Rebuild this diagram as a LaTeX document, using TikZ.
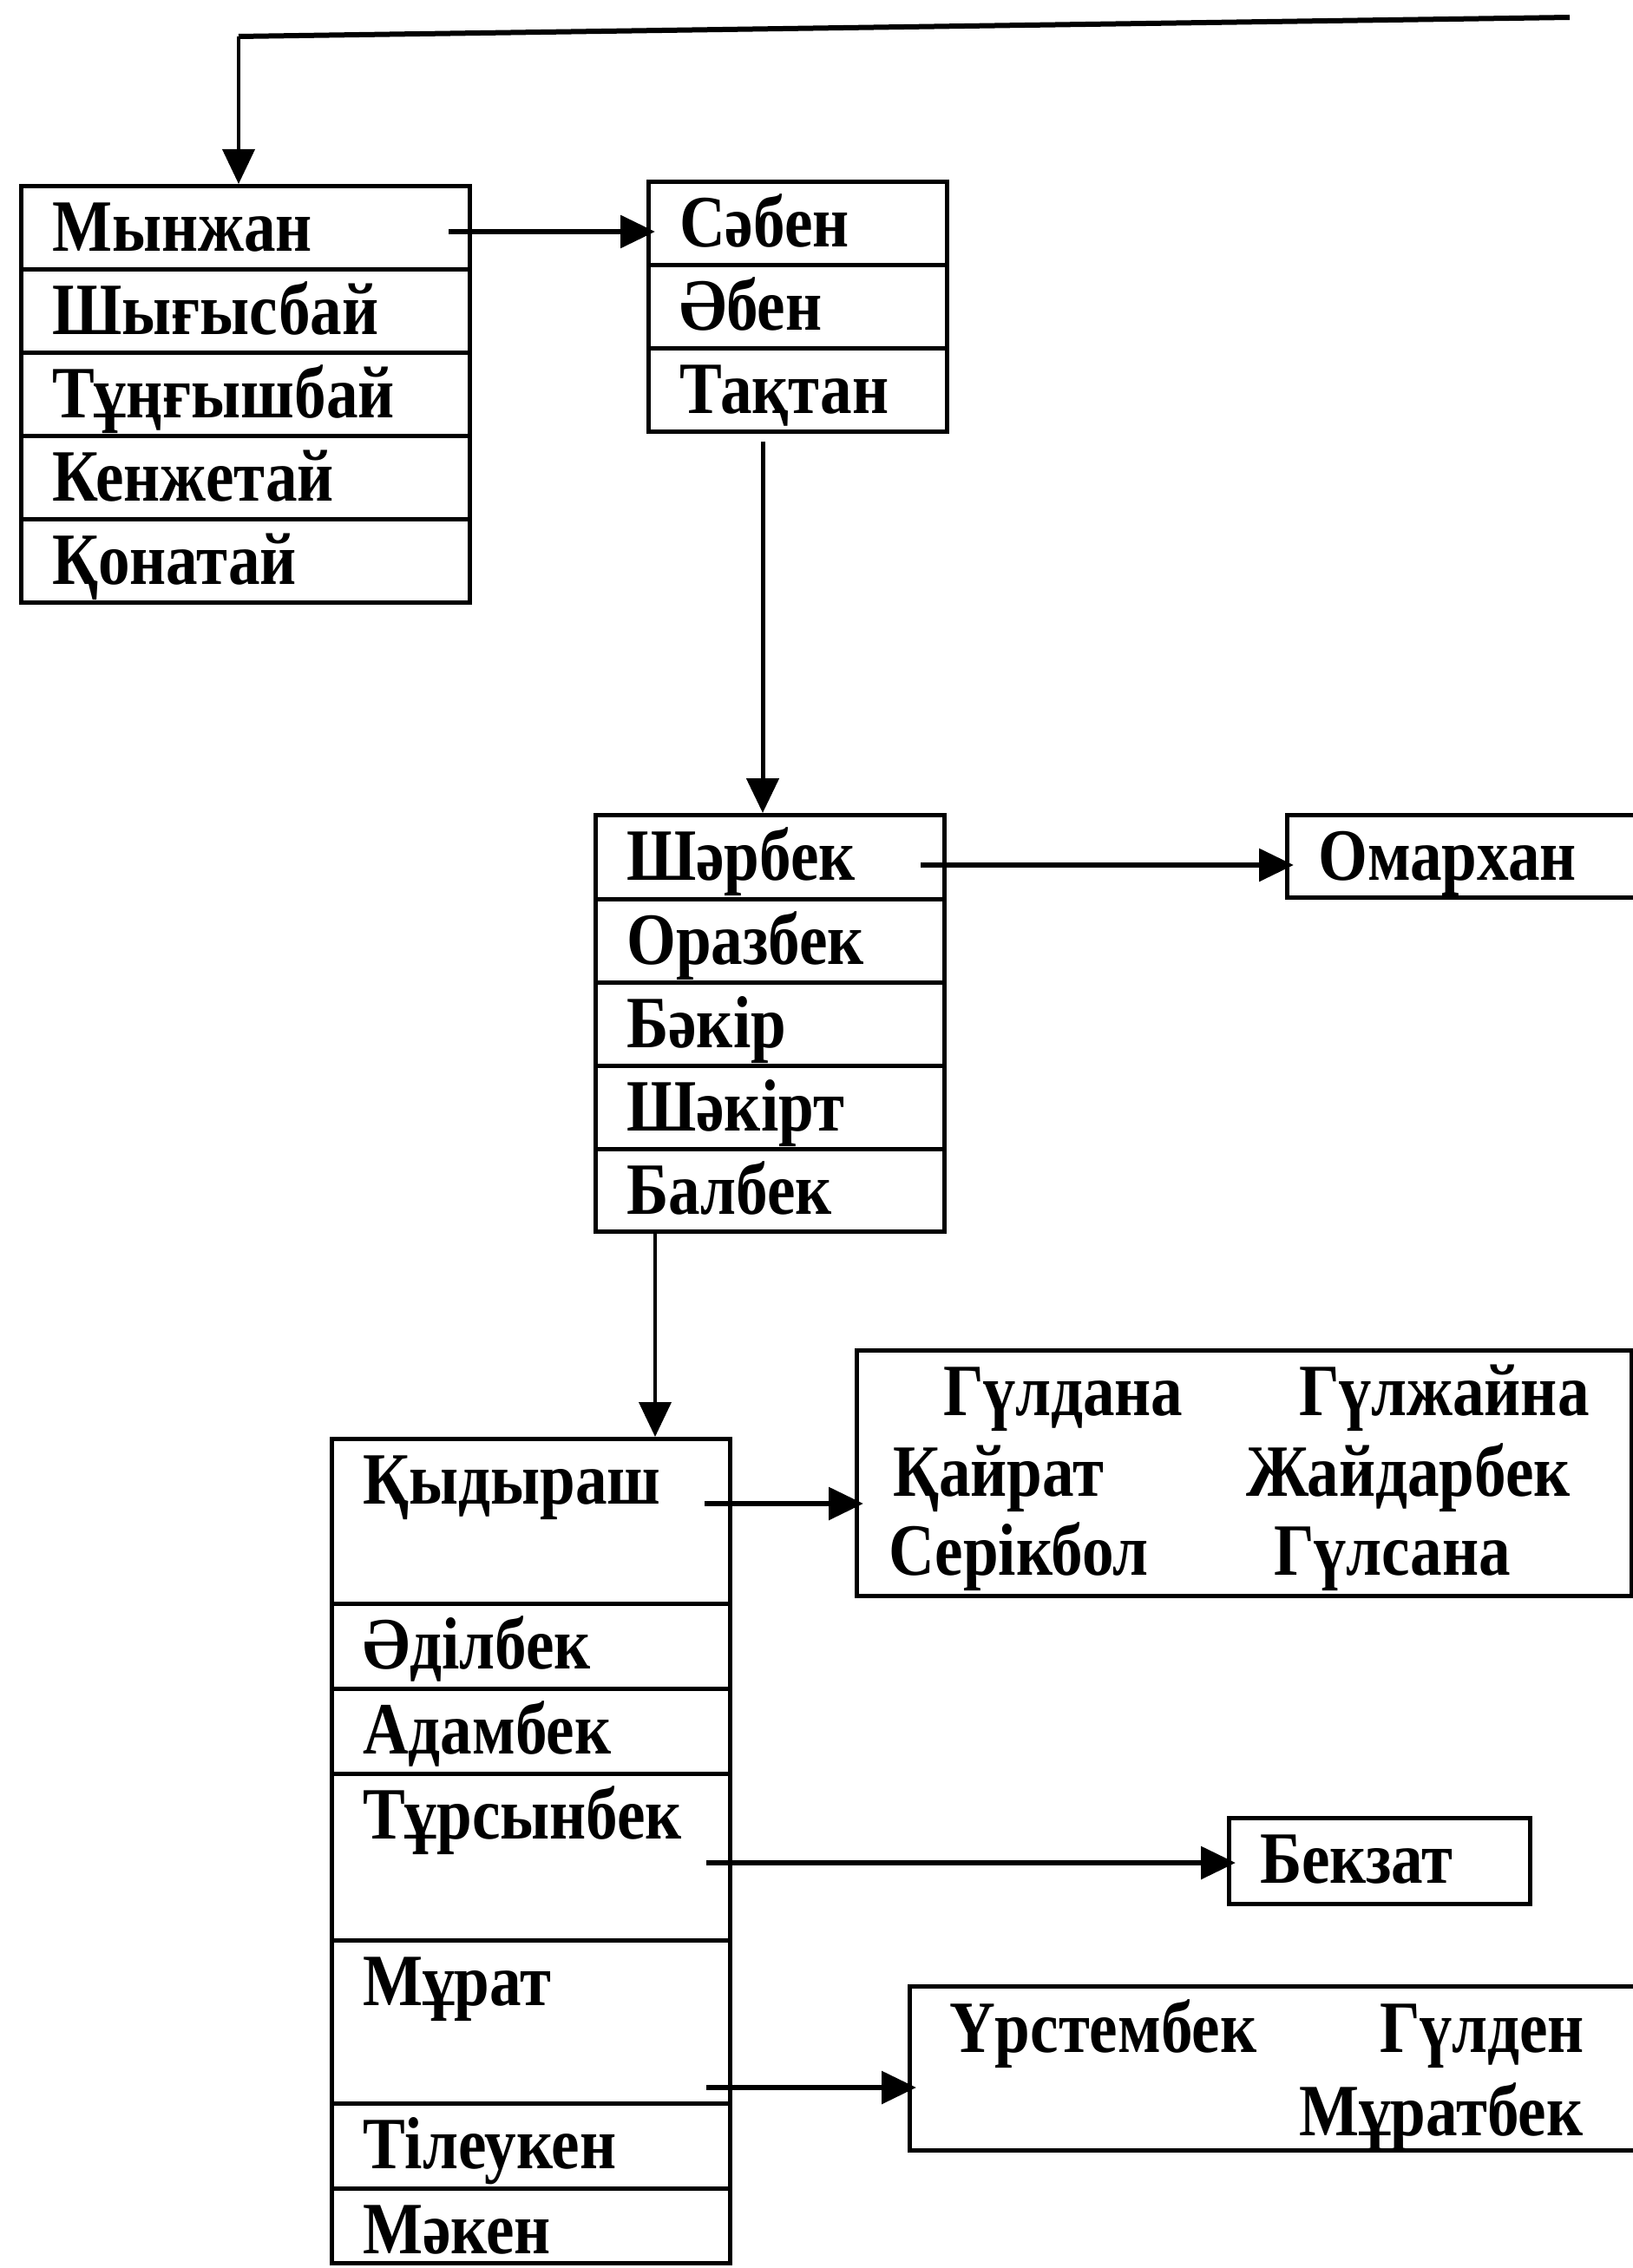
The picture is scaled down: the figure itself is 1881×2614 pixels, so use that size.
\documentclass[tikz,border=0pt]{standalone}
\usepackage{fontspec}
\setmainfont{Liberation Serif}[FakeStretch=0.86]
\usetikzlibrary{arrows.meta,calc}
\tikzset{
  cell/.style 2 args={draw, line width=5pt, anchor=north west, rectangle,
    minimum width=#1pt, minimum height=#2pt, inner sep=0pt},
  lbl/.style={anchor=base west, inner sep=0pt, xshift=38pt, yshift=-77pt},
  txt/.style={label={[lbl]north west:#1}},
  nm/.style={anchor=base west, inner sep=0pt},
  arr/.style={line width=6pt, shorten >=-10pt, -{Triangle[length=40pt,width=37pt]}},
}
\begin{document}
\begin{tikzpicture}[x=1pt,y=-1pt, font=\bfseries\fontsize{85}{95}\selectfont]
\useasboundingbox (0,0) rectangle (1881,2614);
\fill[white] (0,0) rectangle (1881,2614);
% box 1
\node[cell={517}{96}, txt=Мынжан] (m1) at (22,212) {};
\node[cell={517}{96}, txt=Шығысбай] (m2) at (22,308) {};
\node[cell={517}{96}, txt=Тұңғышбай] (m3) at (22,404) {};
\node[cell={517}{96}, txt=Кенжетай] (m4) at (22,500) {};
\node[cell={517}{96}, txt=Қонатай] (m5) at (22,596) {};
% box 2
\node[cell={344}{96}, txt=Сәбен] (s1) at (745,207) {};
\node[cell={344}{96}, txt=Әбен] (s2) at (745,303) {};
\node[cell={344}{96}, txt=Тақтан] (s3) at (745,399) {};
% box 3
\node[cell={402}{97}, txt=Шәрбек] (b1) at (684,937) {};
\node[cell={402}{96}, txt=Оразбек] (b2) at (684,1034) {};
\node[cell={402}{96}, txt=Бәкір] (b3) at (684,1130) {};
\node[cell={402}{96}, txt=Шәкірт] (b4) at (684,1226) {};
\node[cell={402}{95}, txt=Балбек] (b5) at (684,1322) {};
% Omarkhan
\node[cell={440}{95}, txt=Омархан] (om) at (1481,937) {};
% box 4
\node[cell={459}{190}, txt=Қыдыраш] (k1) at (380,1656) {};
\node[cell={459}{98}, txt=Әділбек] (k2) at (380,1846) {};
\node[cell={459}{98}, txt=Адамбек] (k3) at (380,1944) {};
\node[cell={459}{192}, txt=Тұрсынбек] (k4) at (380,2042) {};
\node[cell={459}{188}, txt=Мұрат] (k5) at (380,2234) {};
\node[cell={459}{98}, txt=Тілеукен] (k6) at (380,2422) {};
\node[cell={459}{86}, txt=Мәкен] (k7) at (380,2520) {};
% children of Kydyrash
\node[cell={893}{283}] (g) at (985,1554) {};
\node[nm] (g1) at (1087,1631) {Гүлдана};
\node[nm] (g2) at (1497,1631) {Гүлжайна};
\node[nm] (g3) at (1029,1724) {Қайрат};
\node[nm] (g4) at (1436,1724) {Жайдарбек};
\node[nm] (g5) at (1024,1815) {Серікбол};
\node[nm] (g6) at (1468,1815) {Гүлсана};
% Bekzat
\node[cell={347}{99}, txt=Бекзат] (bz) at (1414,2093) {};
% children of Murat
\node[cell={880}{189}] (u) at (1046,2287) {};
\node[nm] (u1) at (1094,2365) {Үрстембек};
\node[nm] (u2) at (1590,2365) {Гүлден};
\node[nm] (u3) at (1497,2461) {Мұратбек};
% connectors
\coordinate (top1) at (1809,20);
\coordinate (top2) at (275,42);
\draw[line width=6pt] (top1) -- (top2);
\draw[arr, line width=4pt, shorten >=0pt] (top2) -- (top2 |- m1.north);
\coordinate (a1) at (517,267);
\draw[arr] (a1) -- (a1 -| s1.west);
\coordinate (a2) at (879,509);
\draw[arr, line width=5pt, shorten >=0pt] (a2) -- (a2 |- b1.north);
\coordinate (a3) at (1061,997);
\draw[arr] (a3) -- (a3 -| om.west);
\coordinate (a4) at (755,1417);
\draw[arr, line width=4pt, shorten >=0pt] (a4) -- (a4 |- k1.north);
\coordinate (a5) at (812,1733);
\draw[arr] (a5) -- (a5 -| g.west);
\coordinate (a6) at (814,2147);
\draw[arr] (a6) -- (a6 -| bz.west);
\coordinate (a7) at (814,2406);
\draw[arr] (a7) -- (a7 -| u.west);
\end{tikzpicture}
\end{document}
